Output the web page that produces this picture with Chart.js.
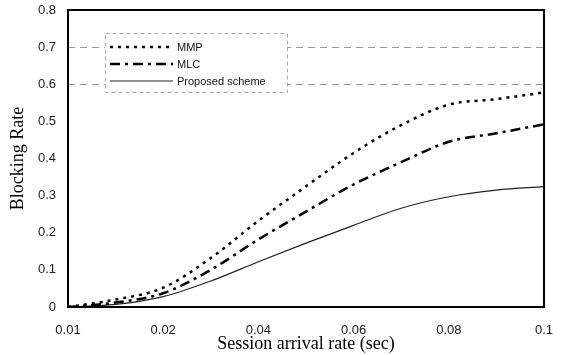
<!DOCTYPE html>
<html>
<head>
<meta charset="utf-8">
<script src="https://cdn.jsdelivr.net/npm/chart.js@4/dist/chart.umd.min.js"></script>
<style>
  html, body { margin: 0; padding: 0; background: #fff; }
  #wrap { width: 563px; height: 355px; }
</style>
</head>
<body>
<div id="wrap"><canvas id="myChart" width="563" height="355"></canvas></div>
<script>
// session arrival rate categories (only every other one gets a label)
const categories = ["0.01", "0.015", "0.02", "0.03", "0.04", "0.05", "0.06", "0.07", "0.08", "0.09", "0.1"];
const shownLabels = ["0.01", "0.02", "0.04", "0.06", "0.08", "0.1"];

// blocking rates
const mmp = [0, 0.02, 0.052, 0.132, 0.232, 0.325, 0.415, 0.49, 0.545, 0.56, 0.578];
const mlc = [0, 0.012, 0.037, 0.1, 0.182, 0.257, 0.33, 0.39, 0.445, 0.468, 0.492];
const proposed = [0, 0.007, 0.028, 0.07, 0.122, 0.172, 0.22, 0.266, 0.297, 0.315, 0.324];

const yTicks = [0, 0.1, 0.2, 0.3, 0.4, 0.5, 0.6, 0.7, 0.8];
const dashedRows = [0.6, 0.7]; // the only grid lines visible in the scan

// frame around the plot area
const framePlugin = {
  id: "frame",
  afterDraw(chart) {
    const a = chart.chartArea;
    const ctx = chart.ctx;
    ctx.save();
    ctx.strokeStyle = "#000";
    ctx.lineWidth = 2;
    ctx.strokeRect(a.left, a.top, a.right - a.left, a.bottom - a.top);
    ctx.restore();
  }
};

// legend box sitting inside the plot, top left
const boxLegend = {
  id: "boxLegend",
  afterDatasetsDraw(chart) {
    const ctx = chart.ctx;
    const x = 105, y = 33, w = 182, h = 59;
    ctx.save();
    ctx.fillStyle = "#fff";
    ctx.fillRect(x, y, w, h);
    ctx.strokeStyle = "#aaa";
    ctx.lineWidth = 1;
    ctx.setLineDash([4, 3]);
    ctx.strokeRect(x + 0.5, y + 0.5, w, h);
    const rows = [47, 64, 81];
    chart.data.datasets.forEach((ds, i) => {
      ctx.beginPath();
      ctx.strokeStyle = ds.borderColor;
      ctx.lineWidth = ds.borderWidth;
      ctx.setLineDash(ds.borderDash || []);
      ctx.moveTo(110, rows[i]);
      ctx.lineTo(173, rows[i]);
      ctx.stroke();
      ctx.setLineDash([]);
      ctx.fillStyle = "#111";
      ctx.font = "11px 'Liberation Sans', Arial, sans-serif";
      ctx.textBaseline = "middle";
      ctx.fillText(ds.label, 177, rows[i] + 1);
    });
    ctx.restore();
  }
};

const data = {
  labels: categories,
  datasets: [
    {
      label: "MMP",
      data: mmp,
      borderColor: "#000",
      borderWidth: 2.5,
      borderDash: [3, 5],
      cubicInterpolationMode: "monotone"
    },
    {
      label: "MLC",
      data: mlc,
      borderColor: "#000",
      borderWidth: 2.5,
      borderDash: [10, 5, 3, 5],
      cubicInterpolationMode: "monotone"
    },
    {
      label: "Proposed scheme",
      data: proposed,
      borderColor: "#222",
      borderWidth: 1.2,
      cubicInterpolationMode: "monotone"
    }
  ]
};

const config = {
  type: "line",
  data: data,
  options: {
    responsive: false,
    animation: false,
    layout: { padding: { top: 10, right: 19, left: 0, bottom: 0 } },
    elements: { point: { radius: 0 } },
    plugins: { legend: { display: false }, tooltip: { enabled: false } },
    scales: {
      x: {
        offset: false,
        grid: { display: false },
        border: { display: false },
        ticks: {
          autoSkip: false,
          maxRotation: 0,
          padding: 8,
          color: "#222",
          font: { family: "'Liberation Sans', Arial, sans-serif", size: 13 },
          callback: function (value, index) {
            const lab = this.getLabelForValue(value);
            return shownLabels.includes(lab) ? lab : "";
          }
        },
        title: {
          display: true,
          text: "Session arrival rate (sec)",
          color: "#000",
          font: { family: "'Liberation Serif', 'Times New Roman', serif", size: 18 },
          padding: { top: 0, bottom: 0 }
        },
        afterFit: (scale) => { scale.height = 48; scale.paddingLeft = 0; scale.paddingRight = 0; }
      },
      y: {
        min: 0,
        max: 0.8,
        afterBuildTicks: (scale) => { scale.ticks = yTicks.map(v => ({ value: v })); },
        grid: {
          drawTicks: false,
          color: (ctx) => (ctx.tick && dashedRows.some(v => Math.abs(v - ctx.tick.value) < 1e-6)) ? "#999" : "rgba(0,0,0,0)",
          lineWidth: 1
        },
        border: { display: false, dash: [7, 5] },
        ticks: {
          padding: 12,
          color: "#222",
          font: { family: "'Liberation Sans', Arial, sans-serif", size: 13 },
          callback: (v) => (Math.round(v * 10) / 10).toString()
        },
        title: {
          display: true,
          text: "Blocking Rate",
          color: "#000",
          font: { family: "'Liberation Serif', 'Times New Roman', serif", size: 18 },
          padding: { top: 7, bottom: 0 }
        },
        afterFit: (scale) => { scale.width = 68; scale.paddingTop = 0; scale.paddingBottom = 0; }
      }
    }
  },
  plugins: [framePlugin, boxLegend]
};

let context = document.getElementById("myChart").getContext("2d");
let chart = new Chart(context, config);
</script>
</body>
</html>
